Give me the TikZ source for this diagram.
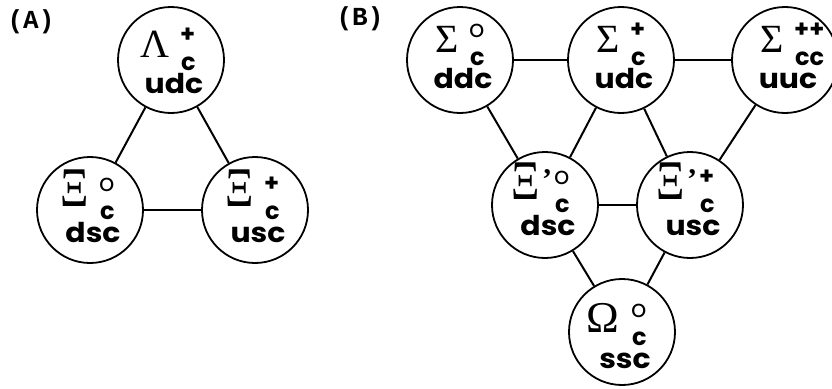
\documentclass[tikz,border=0pt]{standalone}
\usepackage{fontspec}
\usetikzlibrary{calc}
\newfontfamily\grk{Liberation Serif}
\newfontfamily\pop{Poppins}
\newfontfamily\mono{Liberation Mono}
\tikzset{
  ball/.style={circle, draw, line width=1.8pt, minimum size=106pt, inner sep=0pt},
  link/.style={line width=2pt},
  grkf/.style={font=\grk\fontsize{40}{40}\selectfont, inner sep=0pt, anchor=base east},
  supf/.style={font=\pop\bfseries\fontsize{24}{24}\selectfont, inner sep=0pt, anchor=base west},
  subf/.style={font=\pop\bfseries\fontsize{24}{24}\selectfont, inner sep=0pt, anchor=base west},
  qf/.style={font=\pop\bfseries\fontsize{26}{26}\selectfont, inner sep=0pt, anchor=base},
  primef/.style={font=\grk\bfseries\fontsize{30}{30}\selectfont, inner sep=0pt, anchor=base west},
  panel/.style={font=\mono\bfseries\fontsize{26}{26}\selectfont, inner sep=0pt}
}
% #1 name, #2 x, #3 y, #4 greek, #5 sup, #6 sub, #7 quarks, #8 greek x shift, #9 text y shift
\newcommand\baryon[9]{%
  \node[ball] (#1) at (#2,#3) {};
  \node[grkf] (#1-g) at ($(#1.center)+(#8,-3+#9)$) {#4};
  \node[supf] (#1-p) at ($(#1.center)+(9,-18+#9)$) {#5};
  \node[subf] (#1-b) at ($(#1.center)+(10,10+#9)$) {#6};
  \node[qf] (#1-q) at ($(#1.center)+(3,33+#9)$) {\scalebox{1.15}[1.05]{#7}};
}
\newcommand\tallxi{\scalebox{1.1}[1.4]{Ξ}}
\newcommand\ring{{\mdseries o}}
\begin{document}
\begin{tikzpicture}[x=1pt,y=-1pt]
\useasboundingbox (0,0) rectangle (832,388);
\clip (0,0) rectangle (832,388);
% panel labels
\node[panel] (lab-a) at (31,22) {(A)};
\node[panel] (lab-b) at (360,19) {(B)};
% (A)
\baryon{L}{171}{60}{Λ}{+}{c}{udc}{-1}{0}
\baryon{X0}{90}{210}{\tallxi}{\ring}{c}{dsc}{-1}{-1}
\baryon{Xp}{255}{210}{\tallxi}{+}{c}{usc}{-1}{-1}
\draw[link] (L) -- (X0);
\draw[link] (L) -- (Xp);
\draw[link] (X0) -- (Xp);
% (B)
\baryon{S0}{460}{60}{Σ}{\ring}{c}{ddc}{-1}{-5}
\baryon{Sp}{621}{60}{Σ}{+}{c}{udc}{-1}{-5}
\baryon{Scc}{785}{60}{Σ}{++}{cc}{uuc}{-1}{-5}
\baryon{Y0}{545}{205}{\tallxi}{\ring}{c}{dsc}{-5}{-3}
\baryon{Yp}{690}{205}{\tallxi}{+}{c}{usc}{-5}{-3}
\node[primef] (Y0-pr) at ($(Y0.center)+(-3,-16)$) {’};
\node[primef] (Yp-pr) at ($(Yp.center)+(-3,-16)$) {’};
\baryon{Om}{622}{332}{\fontsize{44}{44}\selectfont Ω}{\ring}{c}{ssc}{-3}{3}
\draw[link] (S0) -- (Sp);
\draw[link] (Sp) -- (Scc);
\draw[link] (S0) -- (Y0);
\draw[link] (Sp) -- (Y0);
\draw[link] (Sp) -- (Yp);
\draw[link] (Scc) -- (Yp);
\draw[link] (Y0) -- (Yp);
\draw[link] (Y0) -- (Om);
\draw[link] (Yp) -- (Om);
\end{tikzpicture}
\end{document}
